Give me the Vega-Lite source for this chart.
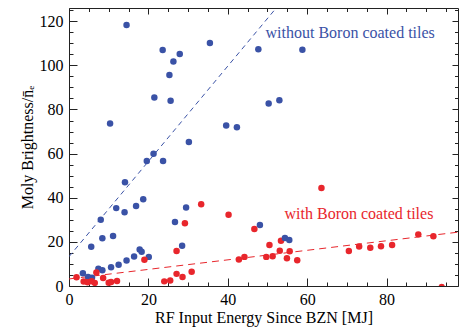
{
  "$schema": "https://vega.github.io/schema/vega-lite/v6.json",
  "width": 389,
  "height": 278,
  "autosize": "none",
  "padding": {"left": 69, "top": 8, "right": 2, "bottom": 42},
  "background": "white",
  "config": {
    "view": {"stroke": null},
    "font": "Liberation Serif",
    "axis": {
      "grid": false,
      "domainColor": "#222222",
      "tickColor": "#222222",
      "domainWidth": 1,
      "tickWidth": 1,
      "labelFont": "Liberation Serif",
      "labelFontSize": 16,
      "labelColor": "#000000",
      "labelFlush": false,
      "labelOverlap": false,
      "titleFont": "Liberation Serif",
      "titleFontSize": 16,
      "titleFontWeight": "normal",
      "titleColor": "#000000"
    }
  },
  "datasets": {
    "points": [
      {"x": 14.5, "y": 118.3, "series": "without"},
      {"x": 23.6, "y": 107.0, "series": "without"},
      {"x": 27.9, "y": 105.1, "series": "without"},
      {"x": 26.3, "y": 101.7, "series": "without"},
      {"x": 25.3, "y": 95.6, "series": "without"},
      {"x": 21.5, "y": 85.4, "series": "without"},
      {"x": 25.6, "y": 84.0, "series": "without"},
      {"x": 35.5, "y": 110.1, "series": "without"},
      {"x": 10.35, "y": 73.6, "series": "without"},
      {"x": 39.6, "y": 72.7, "series": "without"},
      {"x": 42.3, "y": 72.0, "series": "without"},
      {"x": 30.2, "y": 65.3, "series": "without"},
      {"x": 21.3, "y": 59.9, "series": "without"},
      {"x": 19.6, "y": 56.7, "series": "without"},
      {"x": 23.7, "y": 56.7, "series": "without"},
      {"x": 47.7, "y": 107.3, "series": "without"},
      {"x": 58.8, "y": 107.1, "series": "without"},
      {"x": 50.3, "y": 82.7, "series": "without"},
      {"x": 53.0, "y": 84.2, "series": "without"},
      {"x": 14.1, "y": 47.0, "series": "without"},
      {"x": 18.7, "y": 39.3, "series": "without"},
      {"x": 8.0, "y": 30.0, "series": "without"},
      {"x": 11.9, "y": 35.3, "series": "without"},
      {"x": 14.0, "y": 33.4, "series": "without"},
      {"x": 16.9, "y": 36.3, "series": "without"},
      {"x": 29.5, "y": 35.6, "series": "without"},
      {"x": 26.7, "y": 29.0, "series": "without"},
      {"x": 5.6, "y": 17.8, "series": "without"},
      {"x": 8.4, "y": 21.6, "series": "without"},
      {"x": 11.1, "y": 22.7, "series": "without"},
      {"x": 17.8, "y": 16.5, "series": "without"},
      {"x": 18.3, "y": 15.5, "series": "without"},
      {"x": 28.5, "y": 18.2, "series": "without"},
      {"x": 20.1, "y": 13.2, "series": "without"},
      {"x": 16.4, "y": 13.4, "series": "without"},
      {"x": 14.5, "y": 11.6, "series": "without"},
      {"x": 12.5, "y": 9.6, "series": "without"},
      {"x": 10.6, "y": 8.5, "series": "without"},
      {"x": 8.4, "y": 7.1, "series": "without"},
      {"x": 7.4, "y": 7.8, "series": "without"},
      {"x": 3.5, "y": 5.8, "series": "without"},
      {"x": 4.8, "y": 4.1, "series": "without"},
      {"x": 5.8, "y": 3.8, "series": "without"},
      {"x": 33.3, "y": 37.1, "series": "with"},
      {"x": 40.2, "y": 32.3, "series": "with"},
      {"x": 29.2, "y": 28.4, "series": "with"},
      {"x": 27.1, "y": 15.9, "series": "with"},
      {"x": 19.0, "y": 11.9, "series": "with"},
      {"x": 6.9, "y": 6.1, "series": "with"},
      {"x": 1.9, "y": 4.0, "series": "with"},
      {"x": 8.6, "y": 3.6, "series": "with"},
      {"x": 3.7, "y": 2.0, "series": "with"},
      {"x": 4.7, "y": 1.7, "series": "with"},
      {"x": 5.7, "y": 2.2, "series": "with"},
      {"x": 6.5, "y": 1.4, "series": "with"},
      {"x": 10.0, "y": 1.5, "series": "with"},
      {"x": 10.6, "y": 1.8, "series": "with"},
      {"x": 12.1, "y": 2.3, "series": "with"},
      {"x": 24.0, "y": 2.1, "series": "with"},
      {"x": 25.5, "y": 2.5, "series": "with"},
      {"x": 27.1, "y": 5.5, "series": "with"},
      {"x": 28.6, "y": 4.1, "series": "with"},
      {"x": 30.9, "y": 6.5, "series": "with"},
      {"x": 63.6, "y": 44.4, "series": "with"},
      {"x": 46.7, "y": 25.8, "series": "with"},
      {"x": 50.5, "y": 18.6, "series": "with"},
      {"x": 53.4, "y": 20.5, "series": "with"},
      {"x": 53.1, "y": 16.0, "series": "with"},
      {"x": 55.6, "y": 15.8, "series": "with"},
      {"x": 49.7, "y": 13.2, "series": "with"},
      {"x": 51.3, "y": 13.5, "series": "with"},
      {"x": 54.9, "y": 12.6, "series": "with"},
      {"x": 57.5, "y": 11.7, "series": "with"},
      {"x": 44.2, "y": 13.2, "series": "with"},
      {"x": 42.8, "y": 12.0, "series": "with"},
      {"x": 70.5, "y": 15.9, "series": "with"},
      {"x": 73.1, "y": 17.9, "series": "with"},
      {"x": 75.9, "y": 17.3, "series": "with"},
      {"x": 78.6, "y": 18.0, "series": "with"},
      {"x": 81.4, "y": 18.6, "series": "with"},
      {"x": 88.0, "y": 23.4, "series": "with"},
      {"x": 91.8, "y": 22.6, "series": "with"},
      {"x": 93.9, "y": -0.5, "series": "with"},
      {"x": 48.1, "y": 27.6, "series": "without"},
      {"x": 54.4, "y": 21.8, "series": "without"},
      {"x": 55.5, "y": 20.8, "series": "without"}
    ],
    "fits": [
      {"x": 0, "y": 13.3, "series": "without"},
      {"x": 52.2, "y": 126.0, "series": "without"},
      {"x": 0, "y": 3.2, "series": "with"},
      {"x": 98, "y": 24.4, "series": "with"}
    ],
    "labels": [
      {"x": 49.5, "y": 112.3, "series": "without", "text": "without Boron coated tiles"},
      {"x": 54.3, "y": 30.3, "series": "with", "text": "with Boron coated tiles"}
    ]
  },
  "layer": [
    {
      "data": {"name": "fits"},
      "mark": {"type": "line", "strokeWidth": 1, "clip": true},
      "encoding": {
        "x": {"field": "x", "type": "quantitative", "scale": {"domain": [0, 98], "nice": false, "zero": false},
          "axis": {"orient": "bottom", "values": [0, 20, 40, 60, 80], "tickSize": -8, "labelPadding": 13, "labelFlush": false, "labelFont": "Liberation Serif", "labelColor": "#000000", "title": "RF Input Energy Since BZN [MJ]", "titlePadding": 2, "domain": true}},
        "y": {"field": "y", "type": "quantitative", "scale": {"domain": [0, 126], "nice": false, "zero": false},
          "axis": {"orient": "left", "values": [0, 20, 40, 60, 80, 100, 120], "tickSize": -8, "labelPadding": 14, "labelFlush": false, "labelFont": "Liberation Serif", "labelColor": "#000000", "title": "Moly Brightness/n̄ₑ", "titlePadding": 4, "domain": true}},
        "detail": {"field": "series"},
        "color": {"field": "series", "type": "nominal", "scale": {"domain": ["without", "with"], "range": ["#3a52a6", "#e8262c"]}, "legend": null},
        "strokeDash": {"field": "series", "type": "nominal", "scale": {"domain": ["without", "with"], "range": [[5, 4], [7, 5]]}, "legend": null}
      }
    },
    {
      "data": {"name": "points"},
      "mark": {"type": "circle", "size": 42, "opacity": 1, "clip": true},
      "encoding": {
        "x": {"field": "x", "type": "quantitative",
          "axis": {"orient": "bottom", "values": [5, 10, 15, 25, 30, 35, 45, 50, 55, 65, 70, 75, 85, 90, 95], "tickSize": -4, "labels": false, "title": null, "domain": false}},
        "y": {"field": "y", "type": "quantitative",
          "axis": {"orient": "left", "values": [5, 10, 15, 25, 30, 35, 45, 50, 55, 65, 70, 75, 85, 90, 95, 105, 110, 115, 125], "tickSize": -4, "labels": false, "title": null, "domain": false}},
        "color": {"field": "series", "type": "nominal", "legend": null}
      }
    },
    {
      "data": {"name": "labels"},
      "mark": {"type": "text", "align": "left", "baseline": "alphabetic", "font": "Liberation Serif", "fontSize": 16},
      "encoding": {
        "x": {"field": "x", "type": "quantitative",
          "axis": {"orient": "top", "values": [0, 20, 40, 60, 80], "tickSize": -6, "labels": false, "title": null, "domain": true}},
        "y": {"field": "y", "type": "quantitative",
          "axis": {"orient": "right", "values": [0, 20, 40, 60, 80, 100, 120], "tickSize": -6, "labels": false, "title": null, "domain": true}},
        "text": {"field": "text"},
        "color": {"field": "series", "type": "nominal", "legend": null}
      }
    },
    {
      "data": {"name": "fits"},
      "mark": {"type": "point", "opacity": 0},
      "encoding": {
        "x": {"field": "x", "type": "quantitative",
          "axis": {"orient": "top", "values": [5, 10, 15, 25, 30, 35, 45, 50, 55, 65, 70, 75, 85, 90, 95], "tickSize": -3.5, "labels": false, "title": null, "domain": false}},
        "y": {"field": "y", "type": "quantitative",
          "axis": {"orient": "right", "values": [5, 10, 15, 25, 30, 35, 45, 50, 55, 65, 70, 75, 85, 90, 95, 105, 110, 115, 125], "tickSize": -3.5, "labels": false, "title": null, "domain": false}}
      }
    }
  ],
  "resolve": {"axis": {"x": "independent", "y": "independent"}}
}
